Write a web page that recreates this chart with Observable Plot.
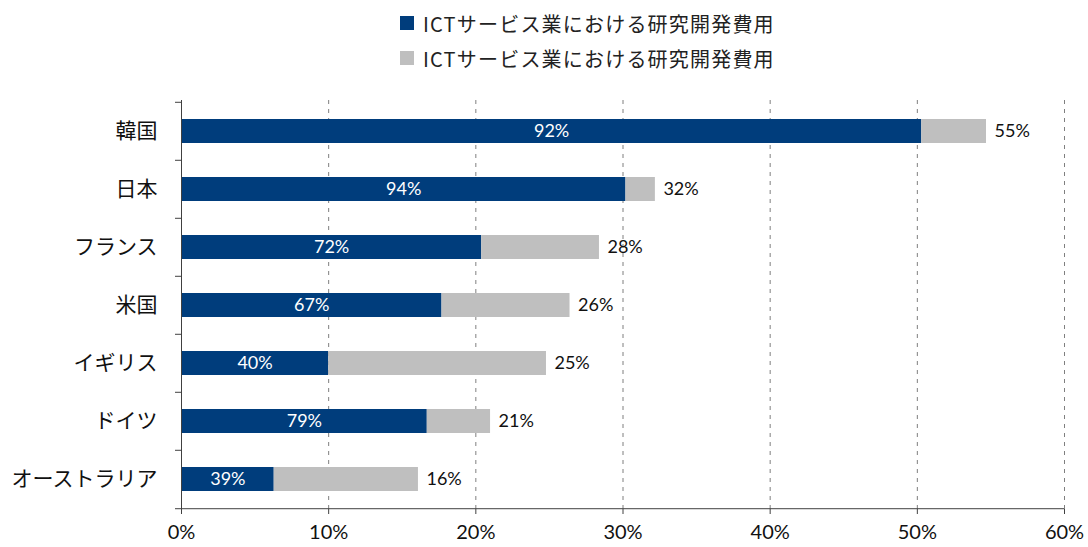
<!DOCTYPE html>
<html>
<head>
<meta charset="utf-8">
<script src="https://cdn.jsdelivr.net/npm/d3@7"></script>
<script src="https://cdn.jsdelivr.net/npm/@observablehq/plot@0.6"></script>
<style>
  body { margin: 0; background: #fff; }
  #wrap { position: relative; width: 1088px; height: 547px; overflow: hidden; }
  #legend { position: absolute; left: 0; top: 0; width: 1088px; height: 80px; font-family: "Noto Sans CJK JP", "Noto Sans", sans-serif; font-size: 20px; letter-spacing: 1.2px; color: #222; }
  .item { position: absolute; left: 400px; display: flex; align-items: center; height: 26px; white-space: nowrap; }
  .sw { width: 14px; height: 14px; margin-right: 9px; }
  #chart { position: absolute; left: 0; top: 80px; }
</style>
</head>
<body>
<div id="wrap">
  <div id="legend"></div>
  <div id="chart"></div>
</div>
<script>
const countries = ["韓国", "日本", "フランス", "米国", "イギリス", "ドイツ", "オーストラリア"];
const totalShare = [54.7, 32.2, 28.4, 26.4, 24.8, 21.0, 16.1];
const ictShare = [50.3, 30.2, 20.4, 17.7, 10.0, 16.7, 6.3];
const ictPctLabels = [92, 94, 72, 67, 40, 79, 39];
const totalLabels = [55, 32, 28, 26, 25, 21, 16];
const xTicks = [0, 10, 20, 30, 40, 50, 60];
const seriesNames = ["ICTサービス業における研究開発費用", "ICTサービス業における研究開発費用"];
const colors = ["#003D7C", "#BFBFBF"];

const data = countries.map((c, i) => ({
  country: c, total: totalShare[i], ict: ictShare[i], pct: ictPctLabels[i], totLabel: totalLabels[i]
}));

// legend
const legend = document.getElementById("legend");
seriesNames.forEach((name, i) => {
  const it = document.createElement("div");
  it.className = "item";
  it.style.top = (10 + i * 35) + "px";
  it.innerHTML = `<div class="sw" style="background:${colors[i]}"></div><span>${name}</span>`;
  legend.appendChild(it);
});

const H = 467, mT = 20, mB = 38;
const step = (H - mT - mB) / countries.length;

const chart = Plot.plot({
  width: 1088,
  height: H,
  marginTop: mT,
  marginBottom: mB,
  marginLeft: 181,
  marginRight: 24,
  style: { fontFamily: "Lato, 'Noto Sans CJK JP', sans-serif", fontSize: "18px", color: "#111", background: "white" },
  x: { domain: [0, 60], ticks: xTicks, tickFormat: d => d + "%" },
  y: { domain: countries, paddingInner: 0.59, paddingOuter: 0.295, label: null },
  marks: [
    Plot.gridX(xTicks.slice(1), { stroke: "#7f7f7f", strokeOpacity: 1, strokeDasharray: "4,5" }),
    Plot.rectX(data, { y: "country", x1: 0, x2: "ict", fill: colors[0] }),
    Plot.rectX(data, { y: "country", x1: "ict", x2: "total", fill: colors[1] }),
    Plot.text(data, { y: "country", x: d => d.ict / 2, text: d => d.pct + "%", fill: "white", fontSize: 18 }),
    Plot.text(data, { y: "country", x: "total", text: d => d.totLabel + "%", textAnchor: "start", dx: 8, fill: "#111", fontSize: 18 }),
    Plot.ruleX([0], { stroke: "#404040" }),
    Plot.ruleY([countries[countries.length - 1]], { x1: 0, x2: 60, dy: step / 2, stroke: "#404040" }),
    Plot.axisX({ ticks: xTicks, tickFormat: d => d + "%", tickSize: 5, tickPadding: 10, label: null, fontSize: 20, stroke: "#404040", fill: "#111" }),
    Plot.axisY({ tickSize: 0, tickPadding: 24, label: null, fontFamily: "'Noto Sans CJK JP', sans-serif", fontSize: 21, fill: "#111" }),
    Plot.axisY({ tickSize: 6, tickFormat: () => "", label: null, dy: -step / 2, stroke: "#404040" }),
    Plot.axisY([countries[countries.length - 1]], { tickSize: 6, tickFormat: () => "", label: null, dy: step / 2, stroke: "#404040" })
  ]
});
document.getElementById("chart").appendChild(chart);
</script>
</body>
</html>
